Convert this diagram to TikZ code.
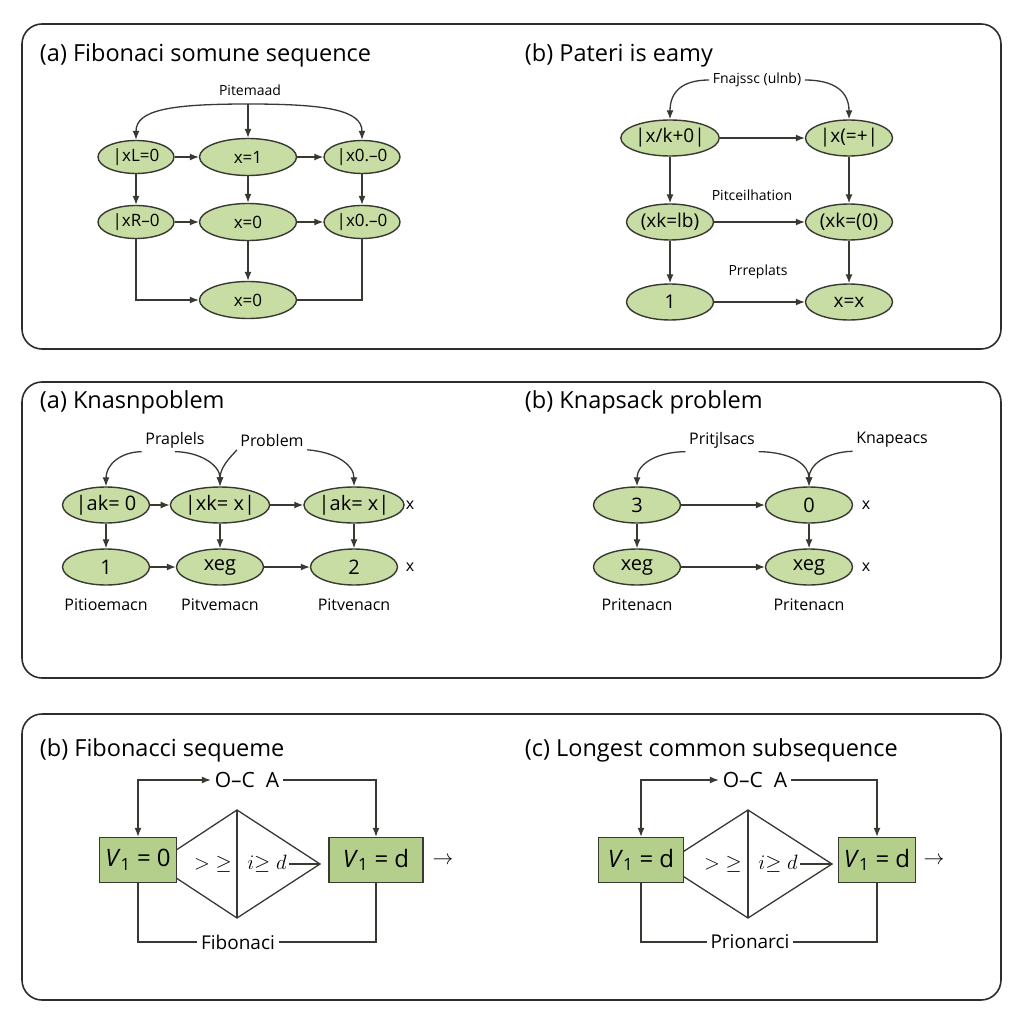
\documentclass[tikz,border=0pt]{standalone}
\usepackage{fontspec}
\setmainfont{Open Sans}
\usetikzlibrary{shapes.geometric,arrows.meta,positioning}
\definecolor{nodegreen}{RGB}{200,221,163}
\definecolor{boxgreen}{RGB}{180,207,140}
\definecolor{edgegray}{RGB}{55,58,50}
\definecolor{panelgray}{RGB}{45,45,45}
\newcommand{\fsz}[1]{\fontsize{#1}{#1}\selectfont}

\begin{document}
\begin{tikzpicture}[x=1pt,y=-1pt,line width=1.3pt,draw=edgegray,
    >={Latex[length=9pt,width=7pt]},
    panel/.style={draw=panelgray,line width=1.6pt,rounded corners=20pt},
    ttl/.style={anchor=west,font=\fsz{23.5}},
    lbl/.style={font=\fsz{14},inner sep=3pt},
    lblB/.style={font=\fsz{16},inner sep=3pt},
    ellS/.style={ellipse,draw=edgegray,fill=nodegreen,inner sep=0pt,line width=1.4pt,
      minimum width=76pt,minimum height=33pt,font=\fsz{17}},
    ellM/.style={ellS,minimum width=97pt,minimum height=37pt},
    ellL/.style={ellS,minimum width=87pt,minimum height=36pt,font=\fsz{19}},
    vbox/.style={draw=edgegray,fill=boxgreen,line width=1.4pt,minimum height=45pt,
      inner sep=0pt,font=\fsz{24}},
    dtext/.style={font=\fsz{22},inner sep=2pt}]
  \fill[white] (0,0) rectangle (1024,1024);
  \useasboundingbox (0,0) rectangle (1024,1024);
  % Panels
  \draw[panel] (22,24) rectangle (1001,349);
  \draw[panel] (22,382) rectangle (1001,678);
  \draw[panel] (22,714) rectangle (1001,1000);

  % (a) Fibonaci
  \node[ttl] (t1) at (36,55) {(a) Fibonaci somune sequence};
  \node[lbl] (p1) at (250,90) {Pitemaad};
  \node[ellS] (l1) at (136,157) {|xL=0};
  \node[ellM] (m1) at (248,157) {x=1};
  \node[ellS] (r1) at (362,157) {|x0.--0};
  \node[ellS] (l2) at (136,222) {|xR--0};
  \node[ellM] (m2) at (248,222) {x=0};
  \node[ellS] (r2) at (362,222) {|x0.--0};
  \node[ellM] (m3) at (248,300) {x=0};
  \coordinate (h1) at (248,104);
  \draw[->] (h1) -- (m1);
  \draw[->] (h1) .. controls (170,104) and (136,110) .. (l1.north);
  \draw[->] (h1) .. controls (326,104) and (362,110) .. (r1.north);
  \draw[->] (l1) -- (m1);
  \draw[->] (m1) -- (r1);
  \draw[->] (l2) -- (m2);
  \draw[->] (m2) -- (r2);
  \draw[->] (l1) -- (l2);
  \draw[->] (m1) -- (m2);
  \draw[->] (r1) -- (r2);
  \draw[->] (m2) -- (m3);
  \draw[->] (l2) |- (m3);
  \draw (r2) |- (m3);

  % (b) Pateri
  \node[ttl] (t2) at (521,55) {(b) Pateri is eamy};
  \node[lbl] (p2) at (757,80) {Fnajssc (ulnb)};
  \node[ellL] (b1) at (670,138) {|x/k+0|};
  \node[ellL] (b2) at (849,138) {|x(=+|};
  \node[ellL] (b3) at (670,222) {(xk=lb)};
  \node[ellL] (b4) at (849,222) {(xk=(0)};
  \node[ellL] (b5) at (670,302) {1};
  \node[ellL] (b6) at (849,302) {x=x};
  \node[lbl] (p3) at (752,195) {Pitceilhation};
  \node[lbl] (p4) at (758,272) {Prreplats};
  \draw[->] (p2.west) .. controls (682,80) and (670,92) .. (b1.north);
  \draw[->] (p2.east) .. controls (835,80) and (849,92) .. (b2.north);
  \draw[->] (b1) -- (b2);
  \draw[->] (b3) -- (b4);
  \draw[->] (b5) -- (b6);
  \draw[->] (b1) -- (b3);
  \draw[->] (b3) -- (b5);
  \draw[->] (b2) -- (b4);
  \draw[->] (b4) -- (b6);

  % (a) Knasnpoblem
  \node[ttl] (t3) at (36,402) {(a) Knasnpoblem};
  \node[lblB] (q1) at (175,440) {Praplels};
  \node[lblB] (q2) at (272,440) {Problem};
  \node[ellL,font=\fsz{20}] (c1) at (106,505) {|ak= 0};
  \node[ellL,font=\fsz{20}] (c2) at (220,505) {|xk= x|};
  \node[ellL,font=\fsz{20}] (c3) at (354,505) {|ak= x|};
  \node[ellL,font=\fsz{20}] (c4) at (106,567) {1};
  \node[ellL,font=\fsz{20}] (c5) at (220,567) {xeg};
  \node[ellL,font=\fsz{20}] (c6) at (354,567) {2};
  \node[lblB] (x1) at (410,505) {x};
  \node[lblB] (x2) at (410,567) {x};
  \node[lblB] (q3) at (106,605) {Pitioemacn};
  \node[lblB] (q4) at (220,605) {Pitvemacn};
  \node[lblB] (q5) at (354,605) {Pitvenacn};
  \draw[->] (q1.south west) .. controls (120,452) and (106,465) .. (c1.north);
  \draw[->] (q1.south) .. controls (200,452) and (220,465) .. (c2.north);
  \draw[->] (q2.south west) .. controls (236,452) and (220,465) .. (c2.north);
  \draw[->] (q2.south east) .. controls (336,452) and (354,465) .. (c3.north);
  \draw[->] (c1) -- (c2);
  \draw[->] (c2) -- (c3);
  \draw[->] (c4) -- (c5);
  \draw[->] (c5) -- (c6);
  \draw[->] (c1) -- (c4);
  \draw[->] (c2) -- (c5);
  \draw[->] (c3) -- (c6);

  % (b) Knapsack
  \node[ttl] (t4) at (521,402) {(b) Knapsack problem};
  \node[lblB] (s1) at (722,440) {Pritjlsacs};
  \node[lblB] (s2) at (892,440) {Knapeacs};
  \node[ellL,font=\fsz{20}] (d1) at (637,505) {3};
  \node[ellL,font=\fsz{20}] (d2) at (809,505) {0};
  \node[ellL,font=\fsz{20}] (d3) at (637,567) {xeg};
  \node[ellL,font=\fsz{20}] (d4) at (809,567) {xeg};
  \node[lblB] (x3) at (866,505) {x};
  \node[lblB] (x4) at (866,567) {x};
  \node[lblB] (s3) at (637,605) {Pritenacn};
  \node[lblB] (s4) at (809,605) {Pritenacn};
  \draw[->] (s1.south west) .. controls (655,452) and (637,465) .. (d1.north);
  \draw[->] (s1.south east) .. controls (792,452) and (809,465) .. (d2.north);
  \draw[->] (s2.south west) .. controls (826,452) and (809,465) .. (d2.north);
  \draw[->] (d1) -- (d2);
  \draw[->] (d3) -- (d4);
  \draw[->] (d1) -- (d3);
  \draw[->] (d2) -- (d4);

  % (b) Fibonacci sequeme
  \node[ttl] (t5) at (36,750) {(b) Fibonacci sequeme};
  \coordinate (dl1) at (155,864);
  \coordinate (dt1) at (237,810);
  \coordinate (dr1) at (320,864);
  \coordinate (db1) at (237,918);
  \draw (dl1) -- (dt1) -- (dr1) -- (db1) -- cycle;
  \draw (dt1) -- (db1);
  \node[vbox,minimum width=77pt] (v1) at (138,860) {\textit{V}\textsubscript{1} = 0};
  \node[vbox,minimum width=94pt] (v2) at (376,860) {\textit{V}\textsubscript{1} = d};
  \node[dtext] (g1) at (213,864) {$>\;\geq$};
  \node[dtext] (g2) at (267,864) {$i{\geq}\;d$};
  \draw (g2.east) -- (dr1);
  \node[dtext] (ra1) at (443,861) {$\rightarrow$};
  \node[font=\fsz{21}] (o1) at (247,780) {O--C\ \ A};
  \node[font=\fsz{19}] (f1) at (238,942) {Fibonaci};
  \draw[<->] (o1.west) -| (v1.north);
  \draw[->] (o1.east) -| (v2.north);
  \draw (v1.south) |- (f1.west);
  \draw (f1.east) -| (v2.south);

  % (c) Longest common subsequence
  \node[ttl] (t6) at (521,750) {(c) Longest common subsequence};
  \coordinate (dl2) at (664,864);
  \coordinate (dt2) at (748,810);
  \coordinate (dr2) at (832,864);
  \coordinate (db2) at (748,918);
  \draw (dl2) -- (dt2) -- (dr2) -- (db2) -- cycle;
  \draw (dt2) -- (db2);
  \node[vbox,minimum width=85pt] (w1) at (641,860) {\textit{V}\textsubscript{1} = d};
  \node[vbox,minimum width=77pt] (w2) at (877,860) {\textit{V}\textsubscript{1} = d};
  \node[dtext] (g3) at (723,864) {$>\;\geq$};
  \node[dtext] (g4) at (778,864) {$i{\geq}\;d$};
  \draw (g4.east) -- (dr2);
  \node[dtext] (ra2) at (934,861) {$\rightarrow$};
  \node[font=\fsz{21}] (o2) at (755,780) {O--C\ \ A};
  \node[font=\fsz{19}] (f2) at (750,942) {Prionarci};
  \draw[<->] (o2.west) -| (w1.north);
  \draw[->] (o2.east) -| (w2.north);
  \draw (w1.south) |- (f2.west);
  \draw (f2.east) -| (w2.south);
\end{tikzpicture}
\end{document}
